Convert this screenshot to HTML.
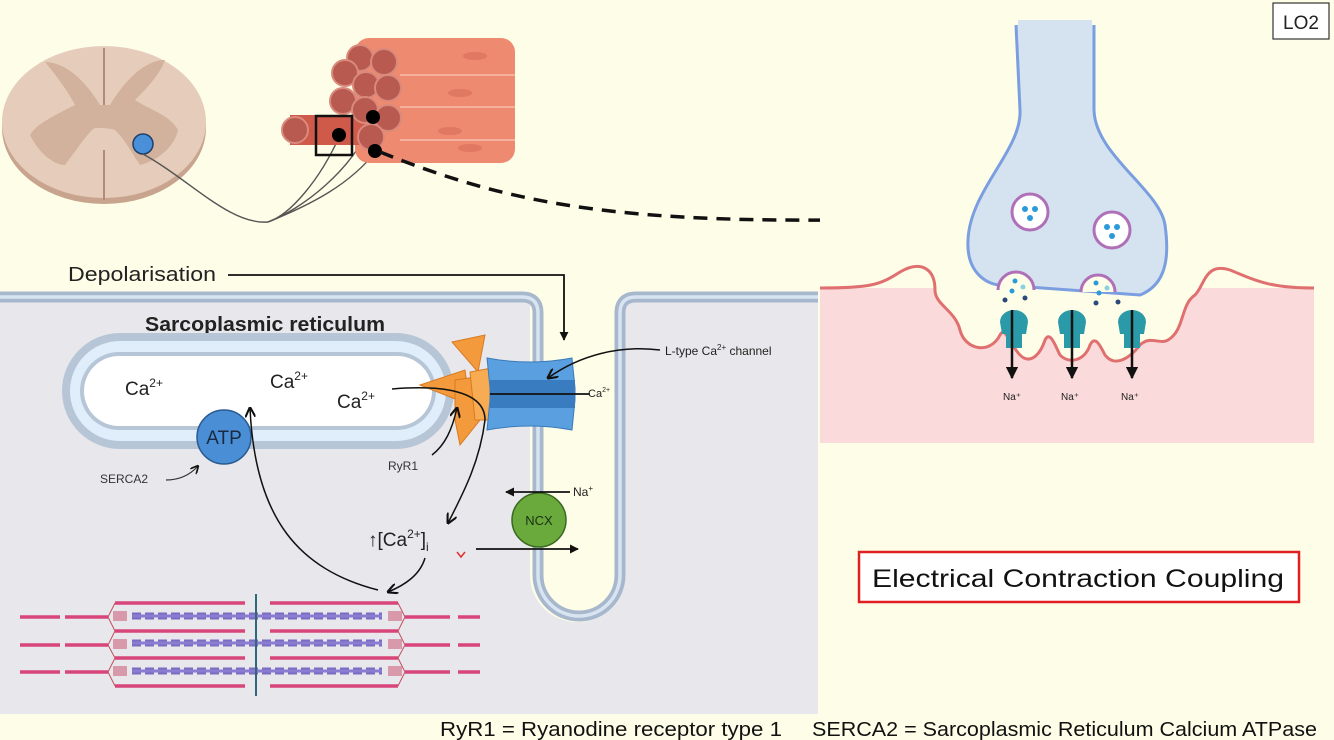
<!DOCTYPE html>
<html><head><meta charset="utf-8"><style>
html,body{margin:0;padding:0;background:#fefee8;}
svg{display:block;font-family:"Liberation Sans",sans-serif;}
</style></head><body>
<svg width="1334" height="740" viewBox="0 0 1334 740" xmlns="http://www.w3.org/2000/svg">
<defs>
<marker id="ah" viewBox="0 0 10 10" refX="9" refY="5" markerWidth="7" markerHeight="7" orient="auto-start-reverse"><path d="M0,0 L10,5 L0,10" fill="none" stroke="#111" stroke-width="2"/></marker>
<marker id="at" viewBox="0 0 10 10" refX="9" refY="5" markerWidth="5" markerHeight="5" orient="auto"><path d="M0,0 L10,5 L0,10 z" fill="#111"/></marker>
</defs>
<rect width="1334" height="740" fill="#fefee8"/>

<!-- spinal cord -->
<ellipse cx="104" cy="128" rx="102" ry="76" fill="#c8a48e"/>
<ellipse cx="104" cy="122" rx="102" ry="76" fill="#e6cdbb"/>
<path d="M45,62 C60,80 70,95 75,105 C55,115 35,125 30,135 C40,155 55,165 65,165 C80,145 90,130 95,128 C100,128 110,128 115,130 C125,140 130,150 140,165 C160,160 175,145 178,130 C170,115 150,110 135,100 C145,90 160,75 165,60 C145,60 125,80 110,105 L100,105 C85,80 65,62 45,62 Z" fill="#d2b29c"/>
<path d="M104,48 L104,105 M104,150 L104,200" stroke="#b08c78" stroke-width="2"/>
<circle cx="143" cy="144" r="10" fill="#4a90d9" stroke="#1d3f6a" stroke-width="1.5"/>
<!-- nerves -->
<g fill="none" stroke="#555" stroke-width="1.4">
<path d="M143,154 C190,180 230,225 268,222 C290,215 320,180 340,135"/>
<path d="M268,222 C300,210 355,170 373,118"/>
<path d="M268,222 C310,205 350,185 377,150"/>
</g>
<!-- muscle bundle -->
<rect x="355" y="38" width="160" height="125" rx="14" fill="#ee8a70"/>
<g stroke="#f6b09e" stroke-width="2"><line x1="400" y1="75" x2="515" y2="75"/><line x1="400" y1="107" x2="515" y2="107"/><line x1="400" y1="140" x2="515" y2="140"/></g>
<g fill="#e07862"><ellipse cx="475" cy="56" rx="12" ry="4"/><ellipse cx="460" cy="93" rx="12" ry="4"/><ellipse cx="450" cy="131" rx="12" ry="4"/><ellipse cx="470" cy="148" rx="12" ry="4"/></g>
<rect x="290" y="115" width="80" height="30" fill="#cf5a4a"/>
<g fill="#b85a50" stroke="#d98a7c" stroke-width="2">
<circle cx="360" cy="58" r="13"/><circle cx="384" cy="62" r="13"/><circle cx="345" cy="73" r="13"/><circle cx="366" cy="85" r="13"/><circle cx="388" cy="88" r="13"/><circle cx="343" cy="101" r="13"/><circle cx="365" cy="110" r="13"/><circle cx="388" cy="118" r="13"/><circle cx="371" cy="137" r="13"/><circle cx="295" cy="130" r="13"/></g>
<rect x="316" y="116" width="36" height="39" fill="none" stroke="#111" stroke-width="2.5"/>
<circle cx="339" cy="135" r="7" fill="#000"/><circle cx="373" cy="117" r="7" fill="#000"/><circle cx="375" cy="151" r="7" fill="#000"/>
<path d="M380,152 C500,200 600,222 835,220" fill="none" stroke="#111" stroke-width="3.5" stroke-dasharray="14,9"/>

<!-- grey cell region -->
<path d="M0,300 L530,300 L530,575 A47,47 0 0 0 624,575 L624,300 L818,300 L818,714 L0,714 Z" fill="#e8e8ec"/>
<path d="M0,297 L522,297 Q538,297 538,313 L538,575 A41,41 0 0 0 620,575 L620,313 Q620,297 636,297 L818,297" fill="none" stroke="#a8b8cc" stroke-width="11"/>
<path d="M0,297 L522,297 Q538,297 538,313 L538,575 A41,41 0 0 0 620,575 L620,313 Q620,297 636,297 L818,297" fill="none" stroke="#d8e4f2" stroke-width="3.5"/>
<!-- Depolarisation -->
<text x="68" y="281" font-size="20" fill="#222" textLength="148" lengthAdjust="spacingAndGlyphs">Depolarisation</text>
<path d="M228,275 L564,275 L564,340" fill="none" stroke="#111" stroke-width="1.8" marker-end="url(#at)"/>
<!-- SR -->
<text x="265" y="331" font-size="20" font-weight="bold" text-anchor="middle" fill="#222" textLength="240" lengthAdjust="spacingAndGlyphs">Sarcoplasmic reticulum</text>
<rect x="62" y="333" width="392" height="116" rx="58" fill="#b6c6d6"/>
<rect x="70" y="341" width="376" height="100" rx="50" fill="#e0eefb"/>
<rect x="80" y="352" width="356" height="78" rx="39" fill="#b6c6d6"/>
<rect x="84" y="356" width="348" height="70" rx="35" fill="#fff"/>
<text x="125" y="395" font-size="19" fill="#222">Ca<tspan font-size="12" dy="-8">2+</tspan></text>
<text x="270" y="388" font-size="19" fill="#222">Ca<tspan font-size="12" dy="-8">2+</tspan></text>
<text x="337" y="408" font-size="19" fill="#222">Ca<tspan font-size="12" dy="-8">2+</tspan></text>
<!-- ATP -->
<circle cx="224" cy="437" r="27" fill="#4a8fd6" stroke="#2a5a90" stroke-width="1.5"/>
<text x="224" y="444" font-size="19" text-anchor="middle" fill="#1a2a40">ATP</text>
<text x="100" y="483" font-size="12" fill="#333">SERCA2</text>
<path d="M166,480 C180,480 190,475 198,466" fill="none" stroke="#333" stroke-width="1.2" marker-end="url(#ah)"/>
<!-- RyR1 orange -->
<g fill="#f39a3c" stroke="#d97a20" stroke-width="1">
<path d="M452,342 L485,335 L478,372 Z"/>
<path d="M420,385 L465,370 L470,405 Z"/>
<path d="M455,380 L490,375 L488,410 L460,445 L455,420 Z"/>
<path d="M470,372 L492,368 L492,420 L475,420 Z" fill="#f7ab52"/>
</g>
<!-- L-type channel -->
<path d="M487,358 Q530,366 572,358 L575,388 L575,400 L572,430 Q530,422 487,430 L490,400 L490,388 Z" fill="#5aa0e0" stroke="#3a7ab8" stroke-width="1"/>
<rect x="490" y="380" width="85" height="28" fill="#3a7cc0"/>
<line x1="490" y1="394" x2="590" y2="394" stroke="#111" stroke-width="1.8"/>
<text x="588" y="397" font-size="11" fill="#222">Ca<tspan font-size="7" dy="-5">2+</tspan></text>
<text x="665" y="355" font-size="12" fill="#222">L-type Ca<tspan font-size="8" dy="-5">2+</tspan><tspan dy="5"> channel</tspan></text>
<path d="M660,350 C620,345 580,355 548,378" fill="none" stroke="#111" stroke-width="1.5" marker-end="url(#ah)"/>
<!-- Ca through RyR -->
<path d="M392,389 C440,385 485,390 485,420 C480,460 465,490 448,523" fill="none" stroke="#111" stroke-width="1.5" marker-end="url(#ah)"/>
<text x="388" y="470" font-size="12" fill="#333">RyR1</text>
<path d="M432,455 C445,445 452,430 457,408" fill="none" stroke="#111" stroke-width="1.5" marker-end="url(#ah)"/>
<!-- Ca i -->
<text x="368" y="546" font-size="19" fill="#222">↑[Ca<tspan font-size="12" dy="-8">2+</tspan><tspan dy="8">]</tspan><tspan font-size="12" dy="5">i</tspan></text>
<path d="M457,552 L461,557 L465,552" fill="none" stroke="#e03030" stroke-width="1.5"/>
<path d="M425,558 C420,575 405,585 388,592" fill="none" stroke="#111" stroke-width="1.5" marker-end="url(#ah)"/>
<path d="M378,590 C300,570 255,520 250,408" fill="none" stroke="#111" stroke-width="1.5" marker-end="url(#ah)"/>
<!-- NCX -->
<circle cx="539" cy="520" r="27" fill="#6aaa3c" stroke="#3a6a20" stroke-width="1.5"/>
<text x="539" y="525" font-size="13" text-anchor="middle" fill="#1a3010">NCX</text>
<line x1="570" y1="492" x2="506" y2="492" stroke="#111" stroke-width="1.8" marker-end="url(#at)"/>
<text x="573" y="496" font-size="12" fill="#222">Na<tspan font-size="8" dy="-5">+</tspan></text>
<line x1="476" y1="549" x2="578" y2="549" stroke="#111" stroke-width="1.8" marker-end="url(#at)"/>
<!-- myofibril -->
<g stroke="#d8457a" stroke-width="3.5" fill="none">
<path d="M20,617 H60 M65,617 H108 M20,645 H60 M65,645 H108 M20,672 H60 M65,672 H108"/>
<path d="M458,617 H480 M405,617 H450 M458,645 H480 M405,645 H450 M458,672 H480 M405,672 H450"/>
<path d="M115,603 H245 M270,603 H398 M115,631 H245 M270,631 H398 M115,658 H245 M270,658 H398 M115,686 H245 M270,686 H398"/>
</g>
<g stroke="#c05060" stroke-width="1" fill="none"><path d="M108,617 L115,603 M108,617 L115,631 M108,645 L115,631 M108,645 L115,658 M108,672 L115,658 M108,672 L115,686"/><path d="M405,617 L398,603 M405,617 L398,631 M405,645 L398,631 M405,645 L398,658 M405,672 L398,658 M405,672 L398,686"/></g>
<g fill="#d89aaa"><rect x="113" y="611" width="14" height="10"/><rect x="113" y="639" width="14" height="10"/><rect x="113" y="666" width="14" height="10"/><rect x="388" y="611" width="14" height="10"/><rect x="388" y="639" width="14" height="10"/><rect x="388" y="666" width="14" height="10"/></g>
<g stroke="#7a6cc0" stroke-width="7" stroke-dasharray="9,4"><path d="M132,616 H382 M132,643 H382 M132,671 H382"/></g>
<g stroke="#8a7cd0" stroke-width="3"><path d="M132,616 H382 M132,643 H382 M132,671 H382"/></g>
<line x1="256" y1="594" x2="256" y2="696" stroke="#2a6a7a" stroke-width="2"/>

<!-- right panel synapse -->
<rect x="820" y="288" width="494" height="155" fill="#fadadb"/>
<path d="M820,288 C870,288 880,285 900,272 C920,260 935,268 935,290 C935,305 955,310 960,330 C965,350 990,355 1000,335 C1005,325 1010,345 1020,355 C1030,365 1040,355 1045,340 C1050,330 1055,345 1060,355 C1070,365 1085,360 1090,345 C1095,335 1100,345 1105,355 C1115,368 1130,358 1140,345 C1150,335 1160,345 1168,340 C1185,330 1180,305 1195,295 C1205,285 1205,262 1230,270 C1250,278 1265,288 1314,288 L1314,0 L820,0 Z" fill="#fefee8"/>
<path d="M820,288 C870,288 880,285 900,272 C920,260 935,268 935,290 C935,305 955,310 960,330 C965,350 990,355 1000,335 C1005,325 1010,345 1020,355 C1030,365 1040,355 1045,340 C1050,330 1055,345 1060,355 C1070,365 1085,360 1090,345 C1095,335 1100,345 1105,355 C1115,368 1130,358 1140,345 C1150,335 1160,345 1168,340 C1185,330 1180,305 1195,295 C1205,285 1205,262 1230,270 C1250,278 1265,288 1314,288" fill="none" stroke="#e07070" stroke-width="3"/>
<!-- terminal -->
<path d="M1016,25 L1020,110 C1022,150 970,190 968,240 C966,275 990,285 1000,285 L1140,295 C1165,285 1170,260 1165,225 C1160,190 1095,155 1094,110 L1094,25" fill="#d4e3ef" stroke="#7a9ee0" stroke-width="3"/>
<rect x="1018" y="20" width="74" height="10" fill="#d4e3ef"/>
<g fill="#fff" stroke="#b070b8" stroke-width="3"><circle cx="1030" cy="212" r="18"/><circle cx="1112" cy="230" r="18"/></g>
<g fill="#2a9ad8"><circle cx="1025" cy="209" r="3"/><circle cx="1035" cy="209" r="3"/><circle cx="1030" cy="218" r="3"/><circle cx="1107" cy="227" r="3"/><circle cx="1117" cy="227" r="3"/><circle cx="1112" cy="236" r="3"/></g>
<g fill="#fefee8" stroke="#b070b8" stroke-width="3"><path d="M998,290 A17,17 0 0 1 1034,290"/><path d="M1081,292 A17,17 0 0 1 1115,292"/></g>
<g fill="#2a9ad8"><circle cx="1015" cy="281" r="2.5"/><circle cx="1012" cy="291" r="2.5"/><circle cx="1023" cy="287" r="2.5" fill="#8ad0e0"/><circle cx="1096" cy="283" r="2.5"/><circle cx="1099" cy="293" r="2.5"/><circle cx="1107" cy="288" r="2.5" fill="#8ad0e0"/></g>
<g fill="#2a4a7a"><circle cx="1005" cy="300" r="2.5"/><circle cx="1025" cy="298" r="2.5"/><circle cx="1096" cy="303" r="2.5"/><circle cx="1118" cy="302" r="2.5"/></g>
<g fill="#2a9aa8"><path d="M1000,322 a14,12 0 0 1 28,0 l-2,12 l-4,0 l0,14 l-16,0 l0,-14 l-4,0 z"/><path d="M1058,322 a14,12 0 0 1 28,0 l-2,12 l-4,0 l0,14 l-16,0 l0,-14 l-4,0 z"/><path d="M1118,322 a14,12 0 0 1 28,0 l-2,12 l-4,0 l0,14 l-16,0 l0,-14 l-4,0 z"/></g>
<g stroke="#111" stroke-width="2.5"><line x1="1012" y1="310" x2="1012" y2="378" marker-end="url(#at)"/><line x1="1072" y1="310" x2="1072" y2="378" marker-end="url(#at)"/><line x1="1132" y1="310" x2="1132" y2="378" marker-end="url(#at)"/></g>
<g font-size="10" fill="#222" text-anchor="middle"><text x="1012" y="400">Na⁺</text><text x="1070" y="400">Na⁺</text><text x="1130" y="400">Na⁺</text></g>
<!-- LO2 -->
<rect x="1273" y="3" width="56" height="36" fill="#fff" stroke="#333" stroke-width="1.2"/>
<text x="1301" y="29" font-size="19" text-anchor="middle" fill="#222">LO2</text>
<!-- ECC box -->
<rect x="859" y="552" width="440" height="50" fill="#fff" stroke="#e02020" stroke-width="2.5"/>
<text x="1078" y="587" font-size="25" text-anchor="middle" fill="#111" textLength="412" lengthAdjust="spacingAndGlyphs">Electrical Contraction Coupling</text>
<!-- bottom legend -->
<text x="440" y="736" font-size="20" fill="#111" textLength="342" lengthAdjust="spacingAndGlyphs">RyR1 = Ryanodine receptor type 1</text>
<text x="812" y="736" font-size="20" fill="#111" textLength="505" lengthAdjust="spacingAndGlyphs">SERCA2 = Sarcoplasmic Reticulum Calcium ATPase</text>
</svg>
</body></html>
